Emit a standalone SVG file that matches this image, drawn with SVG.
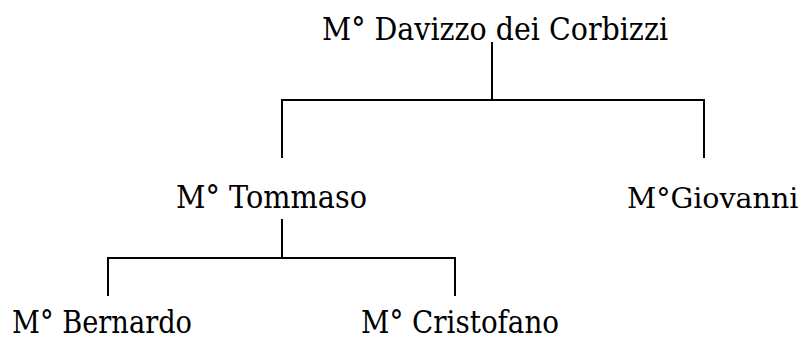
<svg xmlns="http://www.w3.org/2000/svg" width="805" height="340" viewBox="0 0 805 340">
<style>
.t { font-family: 'DejaVu Serif', 'Liberation Serif', serif; font-size: 31px; fill: #000; }
.c line { stroke: #000; stroke-width: 2; }
</style>
<rect width="805" height="340" fill="#fff"/>
<g class="c" id="connectors">
<line x1="492" y1="42" x2="492" y2="100"/>
<line x1="281" y1="100" x2="705" y2="100"/>
<line x1="282" y1="100" x2="282" y2="158"/>
<line x1="704" y1="100" x2="704" y2="158"/>
<line x1="282" y1="219" x2="282" y2="258"/>
<line x1="107" y1="258" x2="456" y2="258"/>
<line x1="108" y1="258" x2="108" y2="296"/>
<line x1="455" y1="258" x2="455" y2="296"/>
</g>
<g id="davizzo"><text class="t" x="322" y="40" textLength="346" lengthAdjust="spacingAndGlyphs">M° Davizzo dei Corbizzi</text></g>
<g id="tommaso"><text class="t" x="176" y="208" textLength="191" lengthAdjust="spacingAndGlyphs">M° Tommaso</text></g>
<g id="giovanni"><text class="t" x="627" y="208" style="font-size:28.5px">M°Giovanni</text></g>
<g id="bernardo"><text class="t" x="12" y="333" textLength="180" lengthAdjust="spacingAndGlyphs">M° Bernardo</text></g>
<g id="cristofano"><text class="t" x="361" y="333" textLength="198" lengthAdjust="spacingAndGlyphs">M° Cristofano</text></g>
</svg>
